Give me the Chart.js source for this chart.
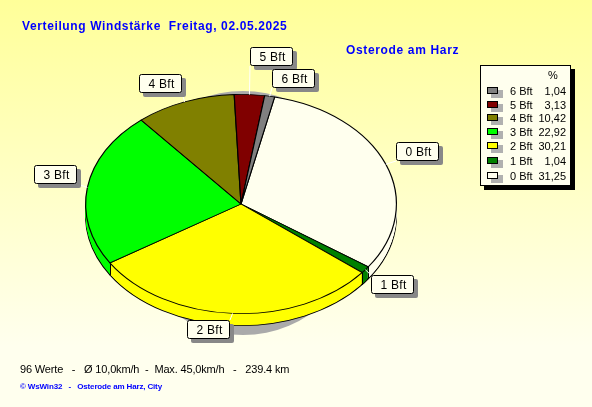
<!DOCTYPE html>
<html>
<head>
<meta charset="utf-8">
<style>
  html, body { margin: 0; padding: 0; }
  body { width: 592px; height: 407px; overflow: hidden; background: linear-gradient(#ffff99, #ffffee 85%); }
  canvas { display: block; }
</style>
<script src="https://cdn.jsdelivr.net/npm/chart.js@4/dist/chart.umd.min.js"></script>
</head>
<body>
<canvas id="pie" width="592" height="407"></canvas>
<script>
const categories = ['0 Bft', '1 Bft', '2 Bft', '3 Bft', '4 Bft', '5 Bft', '6 Bft'];
const percentValues = [31.25, 1.04, 30.21, 22.92, 10.42, 3.13, 1.04];
const percentLabels = ['31,25', '1,04', '30,21', '22,92', '10,42', '3,13', '1,04'];
const sliceColors = ['#ffffee', '#008000', '#ffff00', '#00ff00', '#808000', '#800000', '#808080'];

// Beschriftungsfelder (links, oben)
const labelBoxX = [396, 371, 187, 34, 139, 250, 272];
const labelBoxY = [142, 275, 320, 165, 74, 47, 69];

const SQUASH = 110 / 156;
const DEPTH = 12;
const FONT = '"Liberation Sans", Arial, sans-serif';

function text(ctx, str, x, y, font, color, align, spacing) {
  ctx.font = font;
  ctx.fillStyle = color;
  ctx.textAlign = align || 'left';
  ctx.textBaseline = 'alphabetic';
  ctx.letterSpacing = spacing || '0px';
  ctx.fillText(str, x, y);
  ctx.letterSpacing = '0px';
}

function drawArcs(ctx, arcs, noBorder) {
  arcs.forEach(arc => {
    const saved = arc.options;
    if (noBorder) arc.options = { ...saved, borderWidth: 0 };
    arc.draw(ctx);
    arc.options = saved;
  });
}

const pie3d = {
  id: 'pie3d',
  beforeDatasetsDraw(chart) {
    const ctx = chart.ctx;
    const arcs = chart.getDatasetMeta(0).data;
    const cx = arcs[0].x, cy = arcs[0].y;

    // Schatten
    ctx.save();
    ctx.beginPath();
    ctx.ellipse(cx + 2, cy + 9, 120, 122, 0, 0, Math.PI * 2);
    ctx.fillStyle = '#aaaaaa';
    ctx.fill();
    ctx.restore();

    // Rand
    for (let d = DEPTH; d > 0; d--) {
      ctx.save();
      ctx.translate(cx, cy + d);
      ctx.scale(1, SQUASH);
      ctx.translate(-cx, -cy);
      drawArcs(ctx, arcs, d !== DEPTH);
      ctx.restore();
    }

    // Kanten zwischen den Segmenten
    ctx.strokeStyle = '#000000';
    ctx.lineWidth = 1;
    arcs.forEach(arc => {
      const sin = Math.sin(arc.startAngle);
      if (sin <= 0) return;
      const x = Math.round(arc.x + Math.cos(arc.startAngle) * arc.outerRadius) + 0.5;
      const y = arc.y + sin * arc.outerRadius * SQUASH;
      ctx.beginPath();
      ctx.moveTo(x, y);
      ctx.lineTo(x, y + DEPTH);
      ctx.stroke();
    });

    // Oberseite
    ctx.save();
    ctx.translate(cx, cy);
    ctx.scale(1, SQUASH);
    ctx.translate(-cx, -cy);
  },
  afterDatasetsDraw(chart) {
    const ctx = chart.ctx;
    ctx.restore();

    const arcs = chart.getDatasetMeta(0).data;
    const W = 43, H = 19;

    categories.forEach((name, i) => {
      const arc = arcs[i];
      const mid = (arc.startAngle + arc.endAngle) / 2;
      const ax = arc.x + Math.cos(mid) * arc.outerRadius;
      const ay = arc.y + Math.sin(mid) * arc.outerRadius * SQUASH;
      const bx = labelBoxX[i], by = labelBoxY[i];

      ctx.strokeStyle = '#ffffff';
      ctx.lineWidth = 1;
      ctx.beginPath();
      ctx.moveTo(ax, ay);
      ctx.lineTo(Math.min(Math.max(ax, bx), bx + W), Math.min(Math.max(ay, by), by + H));
      ctx.stroke();

      ctx.fillStyle = '#888888';
      ctx.beginPath();
      ctx.roundRect(bx + 4, by + 4, W, H, 2);
      ctx.fill();
      ctx.fillStyle = '#ffffee';
      ctx.strokeStyle = '#000000';
      ctx.beginPath();
      ctx.roundRect(bx + 0.5, by + 0.5, W - 1, H - 1, 2);
      ctx.fill();
      ctx.stroke();
      text(ctx, name, bx + W / 2 + 1, by + 14, '12px ' + FONT, '#000000', 'center', '0.3px');
    });

    // Titel
    text(ctx, 'Verteilung Windstärke  Freitag, 02.05.2025', 22, 30, 'bold 12px ' + FONT, '#0000ff', 'left', '0.62px');
    text(ctx, 'Osterode am Harz', 346, 54, 'bold 12px ' + FONT, '#0000ff', 'left', '0.65px');

    // Legende
    ctx.fillStyle = '#000000';
    ctx.fillRect(484, 69, 91, 121);
    ctx.fillStyle = '#ffffee';
    ctx.fillRect(480, 65, 91, 121);
    ctx.strokeStyle = '#000000';
    ctx.strokeRect(480.5, 65.5, 90, 120);
    text(ctx, '%', 553, 79, '11px ' + FONT, '#000000', 'center');
    const rowY = [176, 161, 146, 132, 118, 105, 91];
    categories.forEach((name, i) => {
      const y = rowY[i];
      ctx.fillStyle = '#b0b0b0';
      ctx.fillRect(491, y - 1, 12, 8);
      ctx.fillStyle = sliceColors[i];
      ctx.fillRect(487, y - 4, 11, 7);
      ctx.strokeStyle = '#000000';
      ctx.strokeRect(487.5, y - 3.5, 10, 6);
      text(ctx, name, 510, y + 4, '11px ' + FONT, '#000000', 'left');
      text(ctx, percentLabels[i], 566, y + 4, '11px ' + FONT, '#000000', 'right');
    });

    // Fusszeile
    text(ctx, '96 Werte   -   Ø 10,0km/h  -  Max. 45,0km/h   -   239.4 km', 20, 373, '11px ' + FONT, '#000000', 'left', '-0.16px');
    text(ctx, '© WsWin32   -   Osterode am Harz, City', 20, 389, 'bold 8px ' + FONT, '#0000ff', 'left', '-0.15px');
  }
};

new Chart(document.getElementById('pie'), {
  type: 'pie',
  data: {
    labels: categories,
    datasets: [{
      data: percentValues,
      backgroundColor: sliceColors,
      borderColor: '#000000',
      borderWidth: 1.2
    }]
  },
  options: {
    responsive: false,
    animation: false,
    rotation: 12.5,
    layout: { padding: { left: 85, right: 195, top: 48, bottom: 47 } },
    plugins: { legend: { display: false }, tooltip: { enabled: false } }
  },
  plugins: [pie3d]
});
</script>
</body>
</html>
